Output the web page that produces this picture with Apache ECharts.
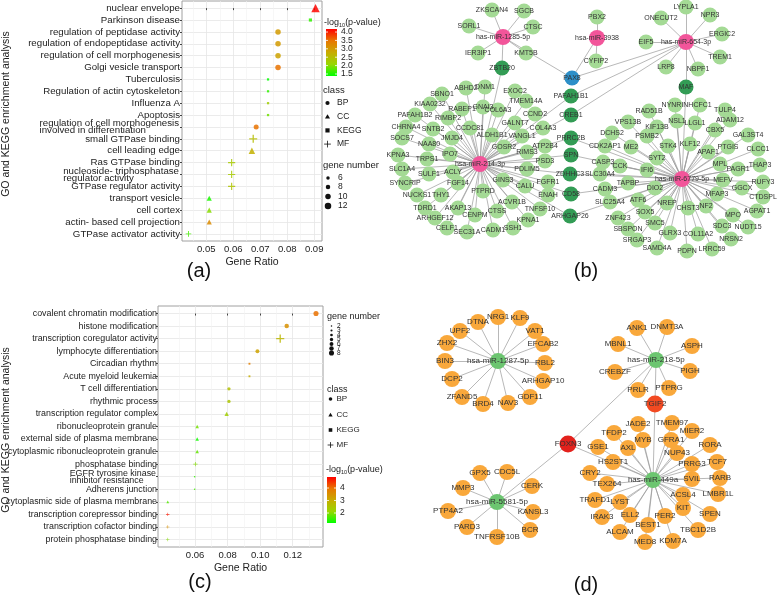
<!DOCTYPE html>
<html><head><meta charset="utf-8">
<script src="https://cdn.jsdelivr.net/npm/echarts@6/dist/echarts.min.js"></script>
<style>html,body{margin:0;padding:0;background:#fff}#c{width:777px;height:597px}</style>
</head><body><div id="c"></div>
<script>
// ---------------- DATA : panel (a) ----------------
const termsA = ['nuclear envelope','Parkinson disease','regulation of peptidase activity','regulation of endopeptidase activity','regulation of cell morphogenesis','Golgi vesicle transport','Tuberculosis','Regulation of actin cytoskeleton','Influenza A','Apoptosis','regulation of cell morphogenesis\ninvolved in differentiation','small GTPase binding','cell leading edge','Ras GTPase binding','nucleoside- triphosphatase\nregulator activity','GTPase regulator activity','transport vesicle','cell cortex','actin- based cell projection','GTPase activator activity'];
const classA = ['CC','KEGG','BP','BP','BP','BP','KEGG','KEGG','KEGG','KEGG','BP','MF','CC','MF','MF','MF','CC','CC','CC','MF'];
const ratioA = [0.0905,0.0886,0.0766,0.0766,0.0766,0.0766,0.0729,0.0729,0.0729,0.0729,0.0685,0.0674,0.0669,0.0594,0.0594,0.0594,0.0511,0.0511,0.0511,0.0434];
const countA = [12,6,10,10,10,10,4,4,4,4,9,9,9,8,8,8,7,7,7,6];
const logpA  = [4.15,1.6,3.0,3.0,2.9,3.5,1.4,1.6,2.2,1.9,3.5,2.5,2.7,2.3,2.3,2.4,1.5,2.0,3.2,1.7];
const ticksA = [0.05,0.06,0.07,0.08,0.09];
const minorA = [0.045,0.055,0.065,0.075,0.085];
const legLogpA = [4.0,3.5,3.0,2.5,2.0,1.5];
const legCountA = [6,8,10,12];

// ---------------- DATA : panel (c) ----------------
const termsC = ['covalent chromatin modification','histone modification','transcription coregulator activity','lymphocyte differentiation','Circadian rhythm','Acute myeloid leukemia','T cell differentiation','rhythmic process','transcription regulator complex','ribonucleoprotein granule','external side of plasma membrane','cytoplasmic ribonucleoprotein granule','phosphatase binding','EGFR tyrosine kinase\ninhibitor resistance','Adherens junction','cytoplasmic side of plasma membrane','transcription corepressor binding','transcription cofactor binding','protein phosphatase binding'];
const classC = ['BP','BP','MF','BP','KEGG','KEGG','BP','BP','CC','CC','CC','CC','MF','KEGG','KEGG','CC','MF','MF','MF'];
const ratioC = [0.1343,0.1163,0.1123,0.0983,0.0934,0.0934,0.0808,0.0808,0.0794,0.0613,0.0613,0.0613,0.0602,0.0597,0.0597,0.0432,0.0432,0.0432,0.0432];
const countC = [8,7,8,6,3,3,5,5,5,4,4,4,4,2,2,3,3,3,3];
const logpC  = [4.0,3.5,2.8,3.2,3.8,3.0,2.6,2.5,2.3,1.9,1.3,1.8,2.0,1.5,1.6,1.7,4.7,3.5,2.0];
const ticksC = [0.06,0.08,0.10,0.12];
const minorC = [0.05,0.07,0.09,0.11,0.13];
const legLogpC = [4,3,2];
const legCountC = [2,3,4,5,6,7,8];
const classes = ['BP','CC','KEGG','MF'];

// ---------------- DATA : network (b) ----------------
const hubsB = {
  'has-miR-1285-5p': ['ZKSCAN4','SGCB','SORL1','CTSC','IER3IP1','KMT5B','ZBTB20','PAX8'],
  'hsa-miR-3938': ['PBX2','CYFIP2','PAX8'],
  'has-miR-654-3p': ['LYPLA1','NPR3','ONECUT2','ERGIC2','EIF5','TREM1','LRP8','NBPF1','MAF','PAX8','PAFAH1B1','CREB1'],
  'hsa-miR-214-3p': ['ABHD2','DNM1','SBNO1','EXOC2','KIAA0232','TMEM14A','GNAI3','RABEP1','COL6A3','RIMBP2','PAFAH1B2','CCND2','GALNT7','CHRNA4','SNTB2','CCDC81','COL4A3','SOCS7','JMJD4','ALDH1B1','VANGL1','NAA80','GOSR2','ATP2B4','KPNA3','TRPS1','IPO7','RIMS3','PSD3','SLC1A4','SULF1','ACLY','PDLIM5','SYNCRIP','FGF14','GINS3','CALU','FGFR1','NUCKS1','THY1','PTPRD','ENAH','TDRD1','AKAP13','ACVR1B','TNFSF10','ARHGEF12','CENPM','CTSS','KPNA1','CELF1','SEC31A','CADM1','SSH1','ZBTB20','PAFAH1B1','CREB1','PRRC2B','SPN','ZDHHC3','CD58','ARHGAP26'],
  'has-miR-6779-5p': ['NYNRIN','HCFC1','TULP4','RAD51B','NSL1','LLGL1','ADAM12','VPS13B','KIF13B','CBX5','GAL3ST4','DCHS2','PSMB2','STK4','KLF12','PTGIS','CLCC1','CDK2AP1','ME2','APAF1','CASP3','SYT2','CCK','MPL','THAP3','IFI6','PAGR1','SLC30A4','MEFV','RUFY3','TAPBP','CADM3','DIO2','GGCX','MFAP3','CTDSPL','SLC25A4','ATF6','NREP','CHST3','NF2','AGPAT1','MPO','ZNF423','SOX5','SMC5','SDC3','NUDT15','SBSPON','GLRX3','COL11A2','NRSN2','SRGAP3','SAMD4A','PDPN','LRRC59','MAF','PRRC2B','SPN','ZDHHC3','CD58','ARHGAP26']
};
const sharedB = ['ZBTB20','PAFAH1B1','CREB1','PRRC2B','SPN','ZDHHC3','CD58','ARHGAP26','MAF'];
const specialB = ['PAX8'];

// ---------------- DATA : network (d) ----------------
const hubsD = {
  'hsa-miR-1287-5p': ['NRG1','DTNA','KLF9','UPF2','VAT1','ZHX2','EFCAB2','BIN3','RBL2','DCP2','ARHGAP10','ZFAND5','GDF11','BRD4','NAV3'],
  'hsa-miR-5581-5p': ['GPX5','CDC5L','MMP3','CERK','PTP4A2','KANSL3','PARD3','BCR','TNFRSF10B','FOXN3'],
  'has-miR-218-5p': ['ANK1','DNMT3A','MBNL1','ASPH','CREBZF','PIGH','PTPRG','PRLR','TGIF2','FOXN3'],
  'has-miR-449a': ['JADE2','TMEM97','MIER2','TFDP2','MYB','GFRA1','RORA','GSE1','AXL','NUP43','HS2ST1','PRRG3','TCF7','CRY2','SVIL','RARB','TEX264','LMBR1L','ACSL4','TRAFD1','LYST','KIT','SPEN','IRAK3','ELL2','PER2','BEST1','TBC1D2B','ALCAM','KDM7A','MED8','FOXN3','TGIF2']
};
const redD = ['FOXN3'];
const red2D = ['TGIF2'];

// ---------------- LAYOUT (node positions, canvas units) ----------------
const posB = {
 'has-miR-1285-5p':[503,37],'ZKSCAN4':[492,10],'SGCB':[524,11],'SORL1':[469,26],'CTSC':[533,27],'IER3IP1':[478,53],'KMT5B':[526,53],'ZBTB20':[502,68],
 'PAX8':[572,78],'hsa-miR-3938':[597,38],'PBX2':[597,17],'CYFIP2':[596,61],
 'has-miR-654-3p':[686,42],'LYPLA1':[686,7],'NPR3':[710,15],'ONECUT2':[661,18],'ERGIC2':[722,34],'EIF5':[646,42],'TREM1':[720,57],'LRP8':[666,67],'NBPF1':[698,69],'MAF':[686,87],
 'PAFAH1B1':[571,96],'CREB1':[571,115],'PRRC2B':[571,138],'SPN':[571,155],'ZDHHC3':[570,174],'CD58':[571,194],'ARHGAP26':[570,216],
 'hsa-miR-214-3p':[480,164],
 'ABHD2':[466,88],'DNM1':[485,87],'SBNO1':[442,94],'EXOC2':[515,91],'KIAA0232':[430,104],'TMEM14A':[526,101],'GNAI3':[483,107],'RABEP1':[462,109],'COL6A3':[498,110],'RIMBP2':[448,118],'PAFAH1B2':[415,115],'CCND2':[535,114],'GALNT7':[515,123],'CHRNA4':[406,127],'SNTB2':[433,129],'CCDC81':[470,128],'COL4A3':[543,128],'SOCS7':[402,138],'JMJD4':[452,138],'ALDH1B1':[492,135],'VANGL1':[522,136],'NAA80':[429,144],'GOSR2':[504,147],'ATP2B4':[545,146],'KPNA3':[398,155],'TRPS1':[427,159],'IPO7':[450,154],'RIMS3':[527,152],'PSD3':[545,161],'SLC1A4':[402,169],'SULF1':[429,174],'ACLY':[453,172],'PDLIM5':[527,169],'SYNCRIP':[405,183],'FGF14':[458,183],'GINS3':[503,180],'CALU':[525,186],'FGFR1':[548,182],'NUCKS1':[417,195],'THY1':[441,195],'PTPRD':[483,191],'ENAH':[548,195],'TDRD1':[425,208],'AKAP13':[458,208],'ACVR1B':[512,202],'TNFSF10':[540,209],'ARHGEF12':[435,218],'CENPM':[475,215],'CTSS':[497,211],'KPNA1':[528,220],'CELF1':[447,228],'SEC31A':[467,232],'CADM1':[493,230],'SSH1':[513,228],
 'has-miR-6779-5p':[682,179],
 'NYNRIN':[675,105],'HCFC1':[700,105],'TULP4':[725,110],'RAD51B':[649,111],'NSL1':[677,121],'LLGL1':[695,123],'ADAM12':[730,120],'VPS13B':[628,122],'KIF13B':[657,127],'CBX5':[715,130],'GAL3ST4':[748,135],'DCHS2':[612,133],'PSMB2':[647,136],'STK4':[668,146],'KLF12':[690,144],'PTGIS':[728,147],'CLCC1':[758,149],'CDK2AP1':[605,146],'ME2':[631,147],'APAF1':[708,152],'CASP3':[603,162],'SYT2':[657,158],'CCK':[620,166],'MPL':[720,164],'THAP3':[760,165],'IFI6':[647,170],'PAGR1':[738,169],'SLC30A4':[600,174],'MEFV':[723,180],'RUFY3':[763,182],'TAPBP':[628,183],'CADM3':[605,189],'DIO2':[655,188],'GGCX':[742,188],'MFAP3':[717,194],'CTDSPL':[763,197],'SLC25A4':[610,202],'ATF6':[638,200],'NREP':[667,203],'CHST3':[688,208],'NF2':[706,206],'AGPAT1':[757,211],'MPO':[733,215],'ZNF423':[618,218],'SOX5':[645,212],'SMC5':[655,223],'SDC3':[722,226],'NUDT15':[748,227],'SBSPON':[628,229],'GLRX3':[670,233],'COL11A2':[698,234],'NRSN2':[731,239],'SRGAP3':[637,240],'SAMD4A':[657,248],'PDPN':[687,251],'LRRC59':[712,249]
};
const posD = {
 'hsa-miR-1287-5p':[498,361],'NRG1':[498,317],'DTNA':[478,322],'KLF9':[520,318],'UPF2':[460,331],'VAT1':[535,331],'ZHX2':[447,343],'EFCAB2':[543,344],'BIN3':[445,361],'RBL2':[545,363],'DCP2':[452,379],'ARHGAP10':[543,381],'ZFAND5':[462,397],'GDF11':[530,397],'BRD4':[483,404],'NAV3':[508,403],
 'FOXN3':[568,444],
 'hsa-miR-5581-5p':[497,502],'GPX5':[480,473],'CDC5L':[507,472],'MMP3':[463,488],'CERK':[532,486],'PTP4A2':[448,511],'KANSL3':[533,512],'PARD3':[467,527],'BCR':[530,530],'TNFRSF10B':[497,537],
 'has-miR-218-5p':[656,360],'ANK1':[637,328],'DNMT3A':[667,327],'MBNL1':[618,344],'ASPH':[692,346],'CREBZF':[615,372],'PIGH':[690,371],'PTPRG':[669,388],'PRLR':[638,390],'TGIF2':[655,404],
 'has-miR-449a':[653,480],'JADE2':[638,424],'TMEM97':[672,423],'MIER2':[692,431],'TFDP2':[614,433],'MYB':[643,440],'GFRA1':[671,440],'RORA':[710,445],'GSE1':[598,447],'AXL':[628,448],'NUP43':[677,453],'HS2ST1':[613,462],'PRRG3':[692,464],'TCF7':[717,462],'CRY2':[590,473],'SVIL':[692,479],'RARB':[720,478],'TEX264':[607,484],'LMBR1L':[718,494],'ACSL4':[683,495],'TRAFD1':[595,500],'LYST':[620,502],'KIT':[683,508],'SPEN':[710,514],'IRAK3':[602,517],'ELL2':[630,515],'PER2':[665,516],'BEST1':[648,525],'TBC1D2B':[698,530],'ALCAM':[620,532],'KDM7A':[673,541],'MED8':[645,542]
};

// ---------------- STYLE ----------------
const FONT = '"Liberation Sans", Arial, Helvetica, sans-serif';
const STOPS = ['#00FF00','#98D700','#C8AB00','#E87600','#FF0000'];
const PLUS = 'path://M0,4.2H10V5.8H0Z M4.2,0H5.8V10H4.2Z';
const SYM = {BP:'circle', CC:'triangle', KEGG:'rect', MF:PLUS};
const SYMK = {BP:1, CC:1.3, KEGG:0.9, MF:1.6};
const sizeA = n => 0.5*n + 0.5;
const sizeC = n => 0.6*n + 0.3;
const rangeA = [1.38, 4.18], rangeC = [1.2, 4.88];

const mctx = document.createElement('canvas').getContext('2d');
function tw(t, fs){ mctx.font = fs + 'px ' + FONT; return mctx.measureText(t).width; }
function labelCfg(terms, fs){
  const rich = {};
  terms.forEach((t,i)=>{
    if (t.indexOf('\n')>=0){
      const w = Math.max(...t.split('\n').map(l=>tw(l,fs))) + 1;
      rich['m'+i] = {width:w, align:'left', lineHeight:7, fontSize:fs, fontFamily:FONT, color:'#222'};
    }
  });
  return {
    rich,
    formatter: v => { const i = Math.round(v); const t = terms[i]; if (t==null) return '';
      if (t.indexOf('\n')<0) return t; return t.split('\n').map(l=>'{m'+i+'|'+l+'}').join('\n'); }
  };
}

function scatterSeries(terms, cls, ratio, count, logp, xi, yi, sizeFn){
  return classes.map(c => ({
    type:'scatter', name:c, xAxisIndex:xi, yAxisIndex:yi, symbol:SYM[c],
    symbolSize: v => sizeFn(v[2]) * SYMK[c],
    data: terms.map((t,i)=> cls[i]===c ? [ratio[i], i, count[i], logp[i]] : null).filter(Boolean),
    itemStyle:{opacity:0.85}, silent:true, animation:false, z:5
  }));
}

function buildGraph(hubs, pos, typeOf, colors, fs, sz){
  const names = [];
  const links = [];
  Object.keys(hubs).forEach(h => hubs[h].forEach(l => { if (names.indexOf(l)<0) names.push(l); links.push({source:h, target:l}); }));
  Object.keys(hubs).forEach(h => names.push(h));
  const data = names.filter(n => pos[n]).map(n => ({
    name:n, value:pos[n], itemStyle:{color: colors[typeOf(n)]},
    symbolSize: sz[typeOf(n)] || sz.leaf
  }));
  return {
    type:'graph', coordinateSystem:'cartesian2d', xAxisIndex:4, yAxisIndex:2, layout:'none',
    symbol:'circle', data, links: links.filter(l=>pos[l.source]&&pos[l.target]),
    label:{show:true, position:'inside', fontSize:fs, color:'#333', fontFamily:FONT},
    lineStyle:{color:'#9a9a9a', width:0.7, opacity:1, curveness:0},
    emphasis:{disabled:true}, silent:true, animation:false, z:3
  };
}
const typeB = n => hubsB[n] ? 'hub' : specialB.includes(n) ? 'pax' : sharedB.includes(n) ? 'shared' : 'leaf';
const typeD = n => hubsD[n] ? 'hub' : redD.includes(n) ? 'red' : red2D.includes(n) ? 'red2' : 'leaf';

const axTxt = {color:'#222', fontFamily:FONT};
function xAxes(gi, min, max, ticks, minor){
  return [
    {type:'value', gridIndex:gi, min, max, position:'bottom',
     axisLine:{show:false}, axisTick:{show:true, length:2, customValues:ticks, lineStyle:{color:'#444'}},
     axisLabel:{customValues:ticks, formatter:v=>v.toFixed(2), fontSize:9.5, margin:3, ...axTxt},
     splitLine:{show:true, lineStyle:{color:'#e6e6e6', width:0.8}},
     name:'Gene Ratio', nameLocation:'middle', nameGap:16, nameTextStyle:{fontSize:10.5, ...axTxt}},
    {type:'value', gridIndex:gi, min, max, position:'top',
     axisLine:{show:false}, axisTick:{show:false, customValues:minor}, axisLabel:{show:false, customValues:minor},
     splitLine:{show:true, lineStyle:{color:'#f2f2f2', width:0.6}}}
  ];
}
function yAxis(gi, terms, fs, margin){
  const n = terms.length, vals = terms.map((t,i)=>i);
  const lc = labelCfg(terms, fs);
  return {type:'value', gridIndex:gi, inverse:true, min:-0.6, max:n-0.4,
    axisLine:{show:false}, axisTick:{show:true, length:2, customValues:vals, lineStyle:{color:'#444'}},
    axisLabel:{customValues:vals, formatter:lc.formatter, rich:lc.rich, fontSize:fs, margin:margin, ...axTxt},
    splitLine:{show:true, lineStyle:{color:'#e6e6e6', width:0.8}}};
}

// ---------------- LEGENDS (graphic) ----------------
const G = [];
function txt(x,y,t,fs,opt){ G.push(Object.assign({type:'text', x, y, silent:true, style:{text:t, fontSize:fs, fontFamily:FONT, fill:'#222', align:'left', verticalAlign:'middle'}}, opt||{})); }
function legSym(c, x, y, s){
  const col = '#111';
  if (c==='BP') G.push({type:'circle', silent:true, shape:{cx:x, cy:y, r:s/2}, style:{fill:col}});
  else if (c==='CC') G.push({type:'polygon', silent:true, shape:{points:[[x,y-s*0.6],[x-s*0.6,y+s*0.45],[x+s*0.6,y+s*0.45]]}, style:{fill:col}});
  else if (c==='KEGG') G.push({type:'rect', silent:true, shape:{x:x-s/2, y:y-s/2, width:s, height:s}, style:{fill:col}});
  else { G.push({type:'line', silent:true, shape:{x1:x-s*0.8,y1:y,x2:x+s*0.8,y2:y}, style:{stroke:col, lineWidth:0.8}});
         G.push({type:'line', silent:true, shape:{x1:x,y1:y-s*0.8,x2:x,y2:y+s*0.8}, style:{stroke:col, lineWidth:0.8}}); }
}
function colorBar(x, y, w, h, range, labels, lx){
  G.push({type:'rect', silent:true, shape:{x, y, width:w, height:h},
    style:{fill:{type:'linear', x:0, y:0, x2:0, y2:1, colorStops: STOPS.slice().reverse().map((c,i)=>({offset:i/(STOPS.length-1), color:c}))}}});
  const dec = labels.some(q => q % 1 !== 0);
  labels.forEach(v => {
    const yy = y + (range[1]-v)/(range[1]-range[0])*h;
    G.push({type:'line', silent:true, shape:{x1:x, y1:yy, x2:x+2, y2:yy}, style:{stroke:'#fff', lineWidth:0.8}});
    G.push({type:'line', silent:true, shape:{x1:x+w-2, y1:yy, x2:x+w, y2:yy}, style:{stroke:'#fff', lineWidth:0.8}});
    txt(lx, yy, dec ? v.toFixed(1) : String(v), 8.5);
  });
}
const logTitle = '-log{s|10}(p-value)';
const logRich = {s:{fontSize:5.5, fontFamily:FONT, fill:'#222', padding:[5,0,0,0]}};
// (a)
txt(324, 23, logTitle, 9, {style:{text:logTitle, fontSize:9, fontFamily:FONT, fill:'#222', align:'left', verticalAlign:'middle', rich:logRich}});
colorBar(326, 29, 11, 47, rangeA, legLogpA, 341);
txt(323, 90, 'class', 9.5);
classes.forEach((c,i)=>{ const y = 103 + i*13.7; legSym(c, 327.5, y, 4.2); txt(337, y, c, 8.5); });
txt(323, 165, 'gene number', 9.5);
[178,187,196.5,206].forEach((y,i)=>{ const n = legCountA[i]; G.push({type:'circle', silent:true, shape:{cx:328, cy:y, r:sizeA(n)/2}, style:{fill:'#111'}}); txt(338, y, String(n), 8.5); });
// (c)
txt(327, 317, 'gene number', 9);
legCountC.forEach((n,i)=>{ const y = 326 + i*4.5; G.push({type:'circle', silent:true, shape:{cx:331.5, cy:y, r:sizeC(n)/2}, style:{fill:'#111'}}); txt(337, y, String(n), 6.5); });
txt(327, 390, 'class', 9);
[399,415,430,445].forEach((y,i)=>{ legSym(classes[i], 330.5, y, 3.6); txt(336.5, y, classes[i], 8); });
txt(326, 470, logTitle, 9, {style:{text:logTitle, fontSize:9, fontFamily:FONT, fill:'#222', align:'left', verticalAlign:'middle', rich:logRich}});
colorBar(327, 477, 9, 46, rangeC, legLogpC, 340);
// axis titles & panel labels
function vtxt(x, y, t){ G.push({type:'text', x, y, rotation:Math.PI/2, silent:true, style:{text:t, fontSize:10.5, fontFamily:FONT, fill:'#222', align:'center', verticalAlign:'middle'}}); }
vtxt(6, 114, 'GO and KEGG enrichment analysis');
vtxt(6, 430, 'GO and KEGG enrichment analysis');
function ptxt(x, y, t){ G.push({type:'text', x, y, silent:true, style:{text:t, fontSize:20, fontFamily:FONT, fill:'#111', align:'center', verticalAlign:'middle'}}); }
ptxt(199, 271, '(a)'); ptxt(586, 271, '(b)'); ptxt(200, 582, '(c)'); ptxt(586, 585, '(d)');

// ---------------- OPTION ----------------
const chart = echarts.init(document.getElementById('c'));
const option = {
  backgroundColor:'#fff', animation:false,
  grid:[
    {left:182, top:1, width:140, height:240, show:true, borderColor:'#a0a0a0', borderWidth:1, backgroundColor:'#fff', outerBoundsMode:'none', containLabel:false},
    {left:158, top:306, width:165, height:241, show:true, borderColor:'#a0a0a0', borderWidth:1, backgroundColor:'#fff', outerBoundsMode:'none', containLabel:false},
    {left:0, top:0, width:777, height:597, show:false, outerBoundsMode:'none', containLabel:false}
  ],
  xAxis:[
    ...xAxes(0, 0.0410, 0.0929, ticksA, minorA),
    ...xAxes(1, 0.0372, 0.1386, ticksC, minorC),
    {type:'value', gridIndex:2, min:0, max:777, show:false}
  ],
  yAxis:[
    yAxis(0, termsA, 9.7, 2),
    yAxis(1, termsC, 8.9, 1),
    {type:'value', gridIndex:2, min:0, max:597, inverse:true, show:false}
  ],
  visualMap:[
    {type:'continuous', show:false, seriesIndex:[0,1,2,3], dimension:3, min:rangeA[0], max:rangeA[1], inRange:{color:STOPS}},
    {type:'continuous', show:false, seriesIndex:[4,5,6,7], dimension:3, min:rangeC[0], max:rangeC[1], inRange:{color:STOPS}}
  ],
  series:[
    ...scatterSeries(termsA, classA, ratioA, countA, logpA, 0, 0, sizeA),
    ...scatterSeries(termsC, classC, ratioC, countC, logpC, 2, 1, sizeC),
    buildGraph(hubsB, posB, typeB, {leaf:'#a4da95', shared:'#339c55', hub:'#f2559a', pax:'#2d8fc8'}, 7, {leaf:15, shared:15, hub:16, pax:15}),
    buildGraph(hubsD, posD, typeD, {leaf:'#f9a83b', hub:'#6cc570', red:'#e3211c', red2:'#f24a22'}, 8, {leaf:16, hub:16, red:17, red2:17})
  ],
  graphic:{elements:G}
};
chart.setOption(option);
</script>
</body></html>
